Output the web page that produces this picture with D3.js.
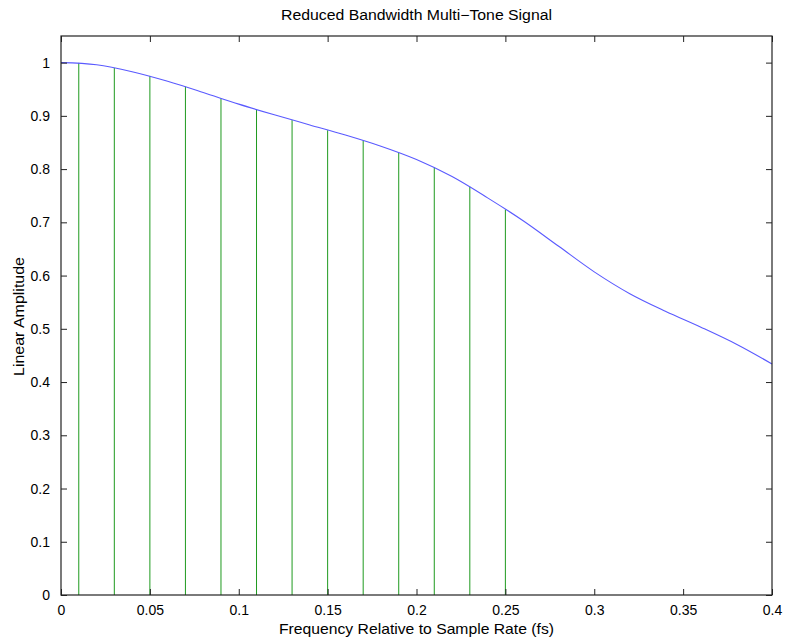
<!DOCTYPE html>
<html><head><meta charset="utf-8">
<script src="https://cdn.jsdelivr.net/npm/d3@7"></script>
<style>body{margin:0;background:#fff}svg{display:block}text{font-family:"Liberation Sans",Arial,sans-serif;fill:#000}</style>
</head><body>
<script>
const curveFreq = [0,0.02,0.04,0.06,0.08,0.10,0.12,0.14,0.16,0.18,0.20,0.22,0.24,0.26,0.28,0.30,0.32,0.34,0.36,0.38,0.40];
const curveAmp  = [1.0,0.996,0.983,0.965,0.944,0.922,0.902,0.883,0.864,0.843,0.818,0.786,0.746,0.703,0.655,0.607,0.566,0.533,0.503,0.471,0.434];
const toneFreq = [0.01,0.03,0.05,0.07,0.09,0.11,0.13,0.15,0.17,0.19,0.21,0.23,0.25];
const toneAmp  = [0.9995,0.990,0.975,0.955,0.933,0.911,0.892,0.873,0.854,0.831,0.803,0.767,0.724];
const xTicks = [0,0.05,0.1,0.15,0.2,0.25,0.3,0.35,0.4];
const yTicks = [0,0.1,0.2,0.3,0.4,0.5,0.6,0.7,0.8,0.9,1];

const W=786,H=638, L=61, R=772, T=36, B=595;
const svg = d3.select("body").append("svg").attr("width",W).attr("height",H);
const x = d3.scaleLinear().domain([0,0.4]).range([L,R]);
const y = d3.scaleLinear().domain([0,1.05]).range([B,T]);

// stems
svg.append("g").selectAll("line").data(toneFreq).join("line")
  .attr("x1",d=>x(d)).attr("x2",d=>x(d))
  .attr("y1",y(0)).attr("y2",(d,i)=>y(toneAmp[i]))
  .attr("stroke","#1f9a1f").attr("stroke-width",1);

// curve
const pts = curveFreq.map((f,i)=>[f,curveAmp[i]]);
svg.append("path").datum(pts)
  .attr("d", d3.line().x(d=>x(d[0])).y(d=>y(d[1])).curve(d3.curveCatmullRom))
  .attr("fill","none").attr("stroke","#5a5aff").attr("stroke-width",1.1);

// axes
const fmt = d=>String(d);
const ax = (g)=>{g.selectAll("text").style("font-size","14px").style("font-family","'Liberation Sans',Arial,sans-serif"); g.selectAll(".domain").remove(); g.selectAll("line").attr("stroke","#222");};
svg.append("g").attr("transform",`translate(0,${B})`)
  .call(d3.axisBottom(x).tickValues(xTicks).tickFormat(fmt).tickSizeInner(-6).tickSizeOuter(0).tickPadding(10))
  .call(ax);
svg.append("g").attr("transform",`translate(0,${T})`)
  .call(d3.axisTop(x).tickValues(xTicks).tickFormat("").tickSizeInner(-6).tickSizeOuter(0))
  .call(ax);
svg.append("g").attr("transform",`translate(${L},0)`)
  .call(d3.axisLeft(y).tickValues(yTicks).tickFormat(fmt).tickSizeInner(-6).tickSizeOuter(0).tickPadding(11))
  .call(ax);
svg.append("g").attr("transform",`translate(${R},0)`)
  .call(d3.axisRight(y).tickValues(yTicks).tickFormat("").tickSizeInner(-6).tickSizeOuter(0))
  .call(ax);

svg.append("rect").attr("x",L).attr("y",T).attr("width",R-L).attr("height",B-T)
  .attr("fill","none").attr("stroke","#222").attr("stroke-width",1.2);

svg.append("text").attr("x",(L+R)/2).attr("y",20).attr("text-anchor","middle")
  .style("font-size","14px").attr("textLength",271).attr("lengthAdjust","spacingAndGlyphs")
  .text("Reduced Bandwidth Multi\u2212Tone Signal");
svg.append("text").attr("x",(L+R)/2).attr("y",634).attr("text-anchor","middle")
  .style("font-size","14.5px").attr("textLength",275).attr("lengthAdjust","spacingAndGlyphs")
  .text("Frequency Relative to Sample Rate (fs)");
svg.append("text").attr("transform",`translate(24,${(T+B)/2+1}) rotate(-90)`).attr("text-anchor","middle")
  .style("font-size","14.5px").attr("textLength",119).attr("lengthAdjust","spacingAndGlyphs")
  .text("Linear Amplitude");
</script>
</body></html>
